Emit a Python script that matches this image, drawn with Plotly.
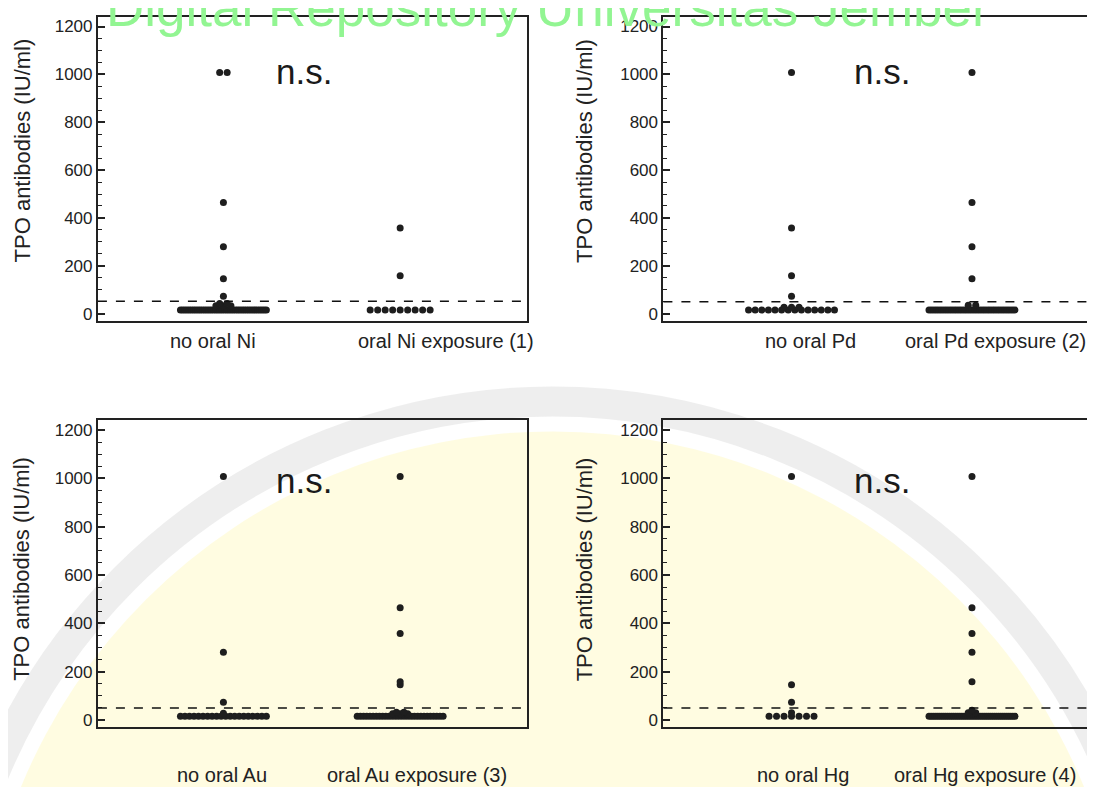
import plotly.graph_objects as go

# ---------------- data ----------------
group_labels = [
    ["no oral Ni", "oral Ni exposure (1)"],
    ["no oral Pd", "oral Pd exposure (2)"],
    ["no oral Au", "oral Au exposure (3)"],
    ["no oral Hg", "oral Hg exposure (4)"],
]
ni_no = [1008, 1008, 465, 280, 146, 73, 42, 42, 33, 33, 33] + [15] * 40
ni_oral = [358, 158] + [15] * 9
pd_no = [1008, 358, 158, 73, 27, 27, 27] + [15] * 14
pd_oral = [1008, 465, 280, 146, 35, 35] + [15] * 35
au_no = [1008, 280, 73, 28] + [15] * 20
au_oral = [1008, 465, 358, 158, 146, 32, 32, 26, 26, 26] + [15] * 28
hg_no = [1008, 146, 73, 30] + [15] * 7
hg_oral = [1008, 465, 358, 280, 158, 40, 30, 30] + [15] * 43
series = [(ni_no, ni_oral), (pd_no, pd_oral), (au_no, au_oral), (hg_no, hg_oral)]
cutoff = [52, 50, 50, 50]
y_tick_vals = [0, 200, 400, 600, 800, 1000, 1200]
y_title = "TPO antibodies (IU/ml)"
sig_text = "n.s."
watermark = "Digital Repository Universitas Jember"

# ---------------- layout constants ----------------
W, H = 1095, 787
FONT = "Liberation Sans, Arial, Helvetica, sans-serif"
INK = "#1e1e1e"
X_RANGE = [-0.71, 1.715]
Y_RANGE = [-30, 1240]
# pixel boxes of the four panels (left, right, top, bottom)
boxes = [(90, 519, 9, 314), (656, 1094, 9, 314), (90, 519, 414, 722), (656, 1094, 414, 722)]
label_px = [((205, 334), (438, 334)), ((803, 334), (988, 334)),
            ((214, 770), (409, 770)), ((796, 770), (978, 770))]
title_px = [(14, 143), (577, 143), (14, 563), (577, 563)]
ns_px = [(296, 64), (875, 64), (296, 474), (875, 474)]
DOT_STEP_PX = 7.5
MAX_ROW_PX = 86


def px_x(x):
    return x / W


def px_y(y):
    return 1 - y / H


def swarm(values, center, ppu):
    xs, ys = [], []
    for v in sorted(set(values)):
        n = values.count(v)
        step = min(DOT_STEP_PX, MAX_ROW_PX / (n - 1)) if n > 1 else 0
        for i in range(n):
            xs.append(center + (i - (n - 1) / 2) * step / ppu)
            ys.append(v)
    return xs, ys


fig = go.Figure()
annotations = []
shapes = []
layout_axes = {}

# faint background emblem of the repository (pale disc + grey ring)
cx, cy = 545, 1000
shapes.append(dict(type="circle", xref="paper", yref="paper", layer="below",
                   x0=px_x(cx - 575), x1=px_x(cx + 575), y0=px_y(cy + 575), y1=px_y(cy - 575),
                   fillcolor="rgba(255,251,212,0.7)", line=dict(width=0)))
shapes.append(dict(type="circle", xref="paper", yref="paper", layer="below",
                   x0=px_x(cx - 605), x1=px_x(cx + 605), y0=px_y(cy + 605), y1=px_y(cy - 605),
                   fillcolor="rgba(0,0,0,0)", line=dict(width=30, color="rgba(205,205,205,0.35)")))

for k, (l, r, t, b) in enumerate(boxes):
    idx = "" if k == 0 else str(k + 1)
    xa, ya = "x" + idx, "y" + idx
    ppu = (r - l) / (X_RANGE[1] - X_RANGE[0])
    for g, vals in enumerate(series[k]):
        xs, ys = swarm(vals, g, ppu)
        fig.add_trace(go.Scatter(
            x=xs, y=ys, mode="markers", xaxis=xa, yaxis=ya,
            marker=dict(size=7, color=INK, line=dict(width=0)),
            showlegend=False, hoverinfo="y"))
    layout_axes["xaxis" + idx] = dict(
        domain=[px_x(l), px_x(r)], range=X_RANGE, anchor=ya,
        showline=True, mirror=True, linewidth=2, linecolor="#222",
        showgrid=False, zeroline=False, showticklabels=False, ticks="")
    layout_axes["yaxis" + idx] = dict(
        domain=[px_y(b), px_y(t)], range=Y_RANGE, anchor=xa,
        showline=True, mirror=True, linewidth=2, linecolor="#222",
        showgrid=False, zeroline=False,
        tickvals=y_tick_vals, ticks="inside", ticklen=7, tickwidth=1.6, tickcolor="#222",
        minor=dict(dtick=50, tick0=0, ticks="inside", ticklen=4, tickwidth=1.4, tickcolor="#222"),
        tickfont=dict(family=FONT, size=17, color="#222"))
    # cutoff line
    shapes.append(dict(type="line", xref=xa + " domain", yref=ya, x0=0, x1=1,
                       y0=cutoff[k], y1=cutoff[k],
                       line=dict(color="#111", width=1.5, dash="dash")))
    # group labels
    for g in range(2):
        lx, ly = label_px[k][g]
        annotations.append(dict(text=group_labels[k][g], x=px_x(lx), y=px_y(ly),
                                xref="paper", yref="paper", showarrow=False,
                                xanchor="center", yanchor="middle",
                                font=dict(family=FONT, size=20, color="#222")))
    # y title
    tx, ty = title_px[k]
    annotations.append(dict(text=y_title, x=px_x(tx), y=px_y(ty), xref="paper", yref="paper",
                            showarrow=False, textangle=-90, xanchor="center", yanchor="middle",
                            font=dict(family=FONT, size=22, color="#222")))
    # n.s.
    nx, ny = ns_px[k]
    annotations.append(dict(text=sig_text, x=px_x(nx), y=px_y(ny), xref="paper", yref="paper",
                            showarrow=False, xanchor="center", yanchor="middle",
                            font=dict(family=FONT, size=35, color="#1a1a1a")))

annotations.append(dict(text=watermark, x=px_x(540), y=px_y(-1), xref="paper", yref="paper",
                        showarrow=False, xanchor="center", yanchor="middle",
                        font=dict(family=FONT, size=53, color="#92F592")))

fig.update_layout(
    width=W, height=H, margin=dict(l=0, r=0, t=0, b=0),
    paper_bgcolor="white", plot_bgcolor="rgba(0,0,0,0)",
    annotations=annotations, shapes=shapes, **layout_axes)

fig.write_html("out.html")
